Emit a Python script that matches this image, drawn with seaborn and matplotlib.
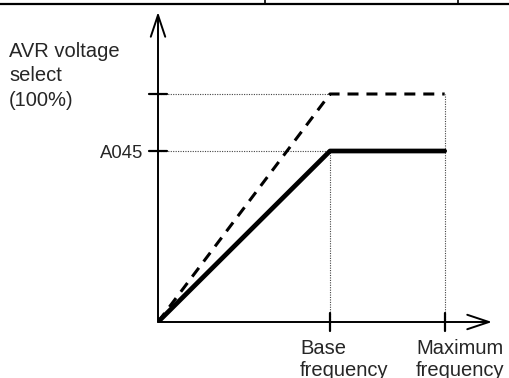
import numpy as np
import pandas as pd
import matplotlib
matplotlib.use('Agg')
import matplotlib.pyplot as plt
from matplotlib.lines import Line2D
import seaborn as sns

# data: frequency (Hz-like units) vs output voltage (%)
freq = [0, 60, 100]
v_a045 = [0, 75, 75]
v_avr = [0, 100, 100]
base_freq = 60
max_freq = 100
a045_level = 75
avr_level = 100
ytick_labels = ['A045']
xtick_labels = [['Base', 'frequency'], ['Maximum', 'frequency']]
ylabel_lines = ['AVR voltage', 'select', '(100%)']

sns.set_style('white')
plt.rcParams['font.family'] = ['Liberation Sans', 'DejaVu Sans']

W, H = 510, 378
fig = plt.figure(figsize=(W / 100, H / 100), dpi=100)

# axes placed so origin sits at pixel (158, 322)
x0, y0 = 158, 322
xr, yt = 492, 12
ax = fig.add_axes([x0 / W, (H - y0) / H, (xr - x0) / W, (y0 - yt) / H])
ax.set_xlim(0, (xr - x0) * base_freq / 172)
ax.set_ylim(0, (y0 - yt) * avr_level / 228)
ax.axis('off')

df = pd.DataFrame({'freq': freq + freq,
                   'volt': v_a045 + v_avr,
                   'kind': ['A045'] * 3 + ['AVR'] * 3})

# guide lines (thin dotted)
dot = dict(color='#444444', lw=0.8, ls=(0, (1, 1.2)), zorder=1)
ax.plot([0, base_freq], [avr_level, avr_level], **dot)
ax.plot([0, base_freq], [a045_level, a045_level], **dot)
ax.plot([base_freq, base_freq], [0, a045_level], **dot)
ax.plot([max_freq, max_freq], [0, avr_level], **dot)

sns.lineplot(data=df[df.kind == 'AVR'], x='freq', y='volt', ax=ax,
             color='black', lw=2.2, zorder=3)
ax.lines[-1].set_linestyle((0, (3.6, 2.6)))
sns.lineplot(data=df[df.kind == 'A045'], x='freq', y='volt', ax=ax,
             color='black', lw=3.4, zorder=4)

# axes with open arrow heads
arr = dict(arrowstyle='->,head_length=0.78,head_width=0.26', lw=1.4,
           color='black', mutation_scale=20, shrinkA=0, shrinkB=0)
ax.annotate('', xy=(0, ax.get_ylim()[1]), xytext=(0, 0), arrowprops=arr,
            annotation_clip=False)
ax.annotate('', xy=(ax.get_xlim()[1], 0), xytext=(0, 0), arrowprops=arr,
            annotation_clip=False)

# tick marks crossing the axes
tick_kw = dict(color='black', lw=1.6, clip_on=False, zorder=5)
tx = 9 * base_freq / 172
ty = 9 * avr_level / 228
for lev in [avr_level, a045_level]:
    ax.plot([-tx, tx], [lev, lev], **tick_kw)
for f in [base_freq, max_freq]:
    ax.plot([f, f], [-ty, ty], **tick_kw)

# labels
fig.text(143.5 / W, 1 - 158.5 / H, ytick_labels[0], ha='right',
         va='baseline', fontsize=13.3)
for xl, lines in zip([300, 416], xtick_labels):
    for txt, yb in zip(lines, [353.5, 375.5]):
        fig.text(xl / W, 1 - yb / H, txt, ha='left', va='baseline',
                 fontsize=14.5)
for txt, yb in zip(ylabel_lines, [57, 81, 106]):
    fig.text(9 / W, 1 - yb / H, txt, ha='left', va='baseline', fontsize=14.5)

# cropped table frame at the top
fig.add_artist(Line2D([0, 1], [1 - 3.5 / H] * 2, color='black', lw=1.6))
for xp in [265, 458]:
    fig.add_artist(Line2D([xp / W] * 2, [1 - 3.5 / H, 1], color='black', lw=1.2))

fig.savefig('out.png', dpi=100)
